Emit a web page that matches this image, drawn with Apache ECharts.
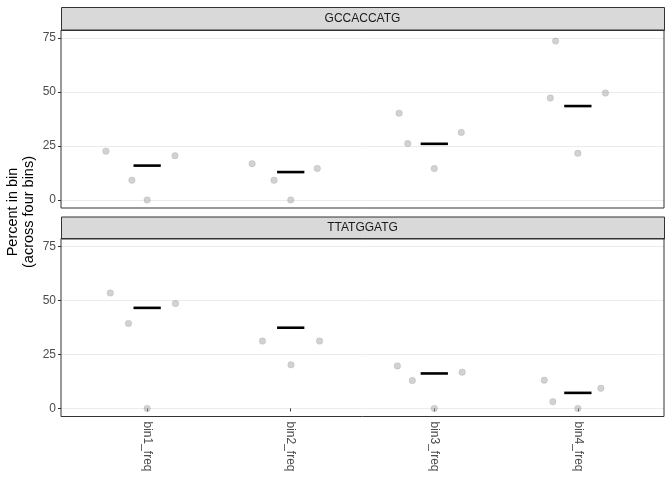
<!DOCTYPE html>
<html>
<head>
<meta charset="utf-8">
<script src="https://cdn.jsdelivr.net/npm/echarts@6/dist/echarts.min.js"></script>
<style>html,body{margin:0;padding:0;background:#fff;}#c{width:672px;height:480px;}</style>
</head>
<body>
<div id="c"></div>
<script>
// ---- data ----
const categories = ['bin1_freq', 'bin2_freq', 'bin3_freq', 'bin4_freq'];
const panels = ['GCCACCATG', 'TTATGGATG'];
const yTicks = [0, 25, 50, 75];
// jittered points: [x position (category index 1..4 + jitter), percent]
const pointsGCC = [
  [0.713, 22.6], [0.894, 9.1], [1.000, 0], [1.194, 20.5],
  [1.731, 16.8], [1.884, 9.1], [2.000, 0], [2.185, 14.6],
  [2.755, 40.2], [2.815, 26.1], [3.000, 14.5], [3.188, 31.3],
  [3.808, 47.2], [3.845, 73.6], [4.000, 21.6], [4.192, 49.5]
];
const pointsTTA = [
  [0.743, 53.5], [0.870, 39.4], [1.000, 0], [1.197, 48.6],
  [1.803, 31.2], [2.002, 20.2], [2.201, 31.2],
  [2.743, 19.7], [2.847, 12.9], [3.000, 0], [3.194, 16.8],
  [3.766, 13.1], [3.826, 3.1], [4.000, 0], [4.160, 9.3]
];
// summary line value per category
const summaryGCC = [15.9, 12.9, 26.0, 43.5];
const summaryTTA = [46.6, 37.4, 16.2, 7.2];

// ---- chart ----
const chart = echarts.init(document.getElementById('c'), null, {renderer: 'canvas'});
const FONT = 'Liberation Sans, Arial, sans-serif';
const gridTops = [30, 238.5];
const gridH = 178;
const gridLeft = 61, gridRight = 8;

function xAxis(idx, showLabels) {
  return {
    type: 'value', gridIndex: idx, min: 0.4, max: 4.6,
    axisLine: {show: false},
    splitLine: {show: false},
    axisTick: {show: showLabels, customValues: [1, 2, 3, 4], length: 3, lineStyle: {color: '#333333'}},
    axisLabel: {
      show: showLabels, customValues: [1, 2, 3, 4], rotate: -90, margin: 5,
      color: '#4d4d4d', fontSize: 12, fontFamily: FONT,
      formatter: v => categories[Math.round(v) - 1]
    }
  };
}
function yAxis(idx) {
  return {
    type: 'value', gridIndex: idx, min: -3.75, max: 78.75,
    axisLine: {show: false},
    splitLine: {show: false},
    axisTick: {show: true, customValues: yTicks, length: 3, lineStyle: {color: '#333333'}},
    axisLabel: {customValues: yTicks, margin: 5, color: '#4d4d4d', fontSize: 12, fontFamily: FONT}
  };
}
function gridSeries(idx) {
  return {
    type: 'line', xAxisIndex: idx, yAxisIndex: idx, data: [], silent: true, z: 0, zlevel: 0,
    markLine: {
      silent: true, symbol: 'none', label: {show: false}, z: 0,
      lineStyle: {color: '#ebebeb', width: 1, type: 'solid'},
      data: yTicks.map(v => ({yAxis: v}))
    }
  };
}
function pointSeries(idx, pts) {
  return {
    type: 'scatter', xAxisIndex: idx, yAxisIndex: idx, data: pts,
    symbol: 'circle', symbolSize: 6.5, z: 6,
    itemStyle: {color: 'rgba(160,160,160,0.6)', borderColor: 'rgba(130,130,130,0.4)', borderWidth: 0.6}
  };
}
function summarySeries(idx, vals) {
  return {
    type: 'custom', xAxisIndex: idx, yAxisIndex: idx, z: 7,
    data: vals.map((v, i) => [i + 1, v]),
    renderItem: function (params, api) {
      const x = api.value(0), y = api.value(1);
      const p1 = api.coord([x - 0.095, y]);
      const p2 = api.coord([x + 0.095, y]);
      return {
        type: 'line',
        shape: {x1: p1[0], y1: p1[1], x2: p2[0], y2: p2[1]},
        style: {stroke: '#000000', lineWidth: 2.6}
      };
    }
  };
}

const graphics = [];
const stripTops = [7, 216.5];
panels.forEach((name, i) => {
  const top = stripTops[i];
  const h = gridTops[i] - top;
  graphics.push({
    type: 'rect', left: gridLeft, top: top,
    shape: {x: 0, y: 0, width: 672 - gridLeft - gridRight, height: h},
    style: {fill: '#d9d9d9', stroke: '#333333', lineWidth: 1}
  });
  graphics.push({
    type: 'text', x: (gridLeft + 672 - gridRight) / 2, y: top + h / 2,
    style: {text: name, fill: '#1a1a1a', fontSize: 12, fontFamily: FONT, align: 'center', verticalAlign: 'middle'}
  });
});
graphics.push({
  type: 'text', x: 21, y: 212, rotation: Math.PI / 2,
  style: {
    text: 'Percent in bin\n(across four bins)', fill: '#000000', fontSize: 14.5, lineHeight: 16,
    fontFamily: FONT, align: 'center', verticalAlign: 'middle'
  }
});

chart.setOption({
  backgroundColor: '#ffffff',
  animation: false,
  grid: gridTops.map(t => ({
    left: gridLeft, right: gridRight, top: t, height: gridH,
    show: true, borderColor: '#333333', borderWidth: 1, backgroundColor: 'transparent', z: 8
  })),
  xAxis: [xAxis(0, false), xAxis(1, true)],
  yAxis: [yAxis(0), yAxis(1)],
  series: [
    gridSeries(0), gridSeries(1),
    pointSeries(0, pointsGCC), pointSeries(1, pointsTTA),
    summarySeries(0, summaryGCC), summarySeries(1, summaryTTA)
  ],
  graphic: graphics
});
</script>
</body>
</html>
